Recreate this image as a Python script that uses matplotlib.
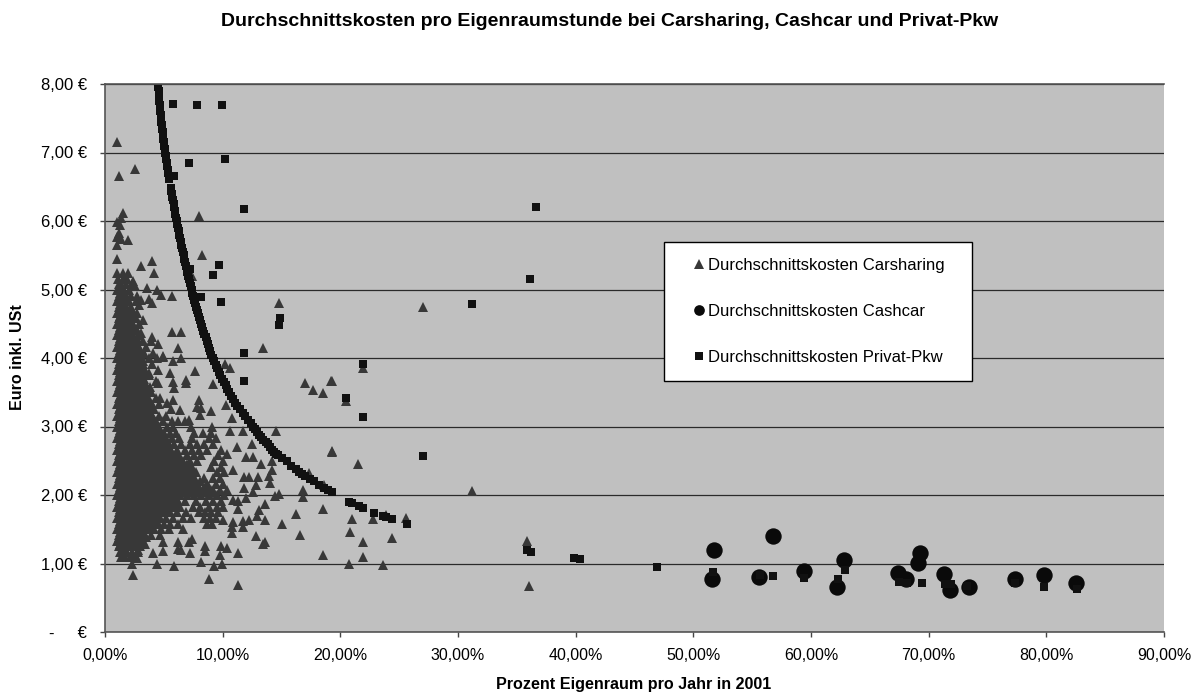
import matplotlib
matplotlib.use('Agg')
from matplotlib import pyplot as plt

plt.rcParams['font.family'] = ['Liberation Sans', 'DejaVu Sans']

x_ticks = [0, 10, 20, 30, 40, 50, 60, 70, 80, 90]
x_labels = ['0,00%', '10,00%', '20,00%', '30,00%', '40,00%', '50,00%', '60,00%', '70,00%', '80,00%', '90,00%']
y_ticks = [0, 1, 2, 3, 4, 5, 6, 7, 8]
y_labels = ['-     €', '1,00 €', '2,00 €', '3,00 €', '4,00 €', '5,00 €', '6,00 €', '7,00 €', '8,00 €']

# overplotted mass of carsharing points, estimated row by row (y, [x...])
carsharing_rows = [
    (1.10, [1.4, 1.7, 2.1, 2.5]),
    (1.17, [1.25, 1.5, 1.9, 2.3, 2.8]),
    (1.25, [1.15, 1.4, 1.7, 2.1, 2.6, 3.0]),
    (1.33, [1.05, 1.3, 1.6, 2.0, 2.4, 2.8, 3.2]),
    (1.42, [1.15, 1.4, 1.8, 2.2, 2.6, 3.0, 3.4, 3.9, 4.7]),
    (1.50, [1.05, 1.25, 1.6, 2.0, 2.4, 2.9, 3.3, 3.7, 4.2, 4.8, 5.4, 6.6]),
    (1.58, [1.15, 1.4, 1.8, 2.2, 2.7, 3.1, 3.6, 4.0, 4.5, 5.0, 5.5, 6.2, 8.7, 9.1]),
    (1.66, [1.05, 1.3, 1.7, 2.1, 2.5, 2.9, 3.4, 3.8, 4.3, 4.7, 5.2, 5.8, 6.6, 7.3, 8.4, 8.9, 9.4]),
    (1.75, [1.15, 1.4, 1.8, 2.3, 2.7, 3.2, 3.6, 4.1, 4.5, 5.0, 5.5, 6.1, 6.9, 8.0, 8.5, 9.0, 9.6]),
    (1.83, [1.05, 1.25, 1.6, 2.0, 2.5, 2.9, 3.4, 3.8, 4.3, 4.8, 5.3, 5.8, 6.4, 7.5, 8.1, 8.8, 9.5, 10.0]),
    (1.91, [1.15, 1.4, 1.9, 2.3, 2.7, 3.2, 3.7, 4.1, 4.6, 5.1, 5.6, 6.2, 6.8, 7.7, 8.6, 9.2, 9.9]),
    (2.00, [1.05, 1.3, 1.7, 2.1, 2.6, 3.0, 3.5, 3.9, 4.4, 4.9, 5.4, 5.9, 6.4, 7.0, 7.6, 8.2, 8.8, 9.5, 10.1]),
    (2.08, [1.15, 1.5, 1.9, 2.4, 2.8, 3.3, 3.7, 4.2, 4.7, 5.2, 5.7, 6.2, 6.7, 7.3, 7.9, 8.5, 9.1, 9.8, 10.4]),
    (2.16, [1.05, 1.3, 1.7, 2.2, 2.6, 3.1, 3.6, 4.0, 4.5, 5.0, 5.5, 6.0, 6.5, 7.0, 7.6, 8.7, 9.4, 10.0]),
    (2.25, [1.15, 1.4, 1.9, 2.3, 2.8, 3.3, 3.8, 4.3, 4.8, 5.3, 5.8, 6.3, 6.8, 7.4, 8.4, 9.2, 9.8]),
    (2.33, [1.05, 1.25, 1.6, 2.1, 2.5, 3.0, 3.5, 4.0, 4.5, 5.0, 5.6, 6.1, 6.6, 7.1, 7.7, 9.5, 10.1]),
    (2.41, [1.15, 1.4, 1.8, 2.3, 2.7, 3.2, 3.7, 4.2, 4.7, 5.3, 5.8, 6.4, 6.9, 7.4, 9.0, 9.9]),
    (2.50, [1.05, 1.3, 1.7, 2.1, 2.5, 3.0, 3.5, 3.9, 4.4, 5.0, 5.5, 6.0, 6.6, 7.2, 7.8, 9.3, 10.0]),
    (2.58, [1.15, 1.5, 1.9, 2.3, 2.8, 3.2, 3.7, 4.1, 4.7, 5.2, 5.8, 6.3, 7.0, 7.6, 8.2, 9.6]),
    (2.66, [1.05, 1.25, 1.7, 2.1, 2.6, 3.0, 3.4, 3.9, 4.5, 5.0, 5.6, 6.1, 6.8, 7.4, 8.0, 8.7, 9.9]),
    (2.75, [1.15, 1.4, 1.9, 2.3, 2.8, 3.3, 3.8, 4.3, 4.8, 5.4, 5.9, 6.5, 7.2, 7.8, 8.4, 9.2]),
    (2.83, [1.05, 1.3, 1.7, 2.2, 2.6, 3.1, 3.6, 4.1, 4.6, 5.2, 5.7, 6.3, 7.4, 8.8, 9.4]),
    (2.91, [1.15, 1.5, 1.9, 2.4, 2.8, 3.4, 3.9, 4.4, 5.0, 5.5, 6.0, 7.6, 8.3, 9.0]),
    (3.00, [1.05, 1.25, 1.6, 2.1, 2.6, 3.1, 3.6, 4.2, 4.6, 5.3, 5.8, 7.3, 9.1]),
    (3.08, [1.15, 1.4, 1.8, 2.3, 2.8, 3.3, 3.8, 4.3, 4.9, 5.7, 6.2, 6.8]),
    (3.16, [1.05, 1.3, 1.7, 2.1, 2.5, 3.0, 3.5, 4.0, 4.6, 5.2]),
    (3.25, [1.15, 1.5, 1.9, 2.3, 2.8, 3.2, 3.7, 4.2, 5.6]),
    (3.33, [1.05, 1.25, 1.7, 2.1, 2.6, 3.0, 3.5, 4.0, 4.6]),
    (3.41, [1.15, 1.4, 1.8, 2.3, 2.8, 3.2, 3.6, 4.3]),
    (3.50, [1.05, 1.3, 1.7, 2.1, 2.5, 2.9, 3.4, 3.9]),
    (3.58, [1.15, 1.5, 1.9, 2.3, 2.7, 3.1, 3.6]),
    (3.66, [1.05, 1.25, 1.7, 2.1, 2.5, 2.9, 3.3, 4.3]),
    (3.75, [1.15, 1.4, 1.8, 2.2, 2.7, 3.1, 3.7]),
    (3.83, [1.05, 1.3, 1.7, 2.0, 2.5, 2.9, 3.4, 4.5]),
    (3.91, [1.15, 1.5, 1.9, 2.3, 2.7, 3.2, 4.0]),
    (4.00, [1.05, 1.25, 1.7, 2.1, 2.5, 3.0, 3.7, 4.4]),
    (4.08, [1.15, 1.4, 1.8, 2.3, 2.7, 3.3, 4.1]),
    (4.16, [1.05, 1.3, 1.6, 2.0, 2.4, 2.9, 3.5]),
    (4.25, [1.15, 1.4, 1.8, 2.2, 2.6, 3.2, 3.9]),
    (4.33, [1.05, 1.25, 1.6, 2.0, 2.4, 2.9]),
    (4.41, [1.15, 1.4, 1.8, 2.2, 2.7]),
    (4.50, [1.05, 1.25, 1.6, 2.0, 2.4, 2.9]),
    (4.58, [1.15, 1.4, 1.8, 2.2, 2.6]),
    (4.66, [1.05, 1.25, 1.6, 2.0, 2.4]),
    (4.75, [1.15, 1.4, 1.8, 2.2]),
    (4.83, [1.05, 1.25, 1.6, 2.0, 2.6]),
    (4.91, [1.15, 1.4, 1.8, 2.2]),
    (5.00, [1.05, 1.3, 1.6, 2.0]),
    (5.08, [1.15, 1.4, 1.8, 2.3]),
    (5.16, [1.1, 1.5, 1.9]),
]

# second pass over the solid core of the mass, rows between the ones above
carsharing_core_rows = [
    (1.29, [1.3, 1.8, 2.2, 2.5, 2.8, 3.1]),
    (1.38, [1.2, 1.6, 2.0, 2.4, 2.8, 3.1, 3.5]),
    (1.46, [1.3, 1.7, 2.1, 2.5, 2.9, 3.2]),
    (1.54, [1.2, 1.5, 1.9, 2.3, 2.6, 3.0, 3.4, 3.8]),
    (1.62, [1.3, 1.6, 2.0, 2.4, 2.8, 3.2, 3.5, 3.9, 4.4]),
    (1.70, [1.2, 1.5, 1.9, 2.3, 2.6, 3.0, 3.4, 3.9, 4.2, 4.6]),
    (1.79, [1.3, 1.6, 2.0, 2.4, 2.8, 3.1, 3.5, 3.9, 4.4, 4.8, 5.1]),
    (1.87, [1.2, 1.5, 1.9, 2.2, 2.6, 3.0, 3.3, 3.7, 4.1, 4.5, 5.0, 5.5, 5.8, 6.1]),
    (1.96, [1.3, 1.6, 2.0, 2.4, 2.8, 3.2, 3.6, 4.0, 4.4, 4.8, 5.2, 5.7, 6.0]),
    (2.04, [1.2, 1.5, 1.9, 2.3, 2.7, 3.1, 3.5, 3.8, 4.2, 4.6, 5.0, 5.5, 5.9, 6.3]),
    (2.12, [1.3, 1.7, 2.1, 2.5, 2.9, 3.2, 3.6, 4.0, 4.4, 4.8, 5.2, 5.6, 6.1, 6.4]),
    (2.20, [1.2, 1.6, 2.0, 2.4, 2.7, 3.1, 3.5, 3.9, 4.3, 4.7, 5.1, 5.5, 5.9, 6.2]),
    (2.29, [1.3, 1.7, 2.1, 2.5, 2.9, 3.3, 3.6, 4.0, 4.4, 4.9, 5.3, 5.7, 6.0]),
    (2.37, [1.2, 1.5, 1.9, 2.3, 2.7, 3.1, 3.5, 3.9, 4.3, 4.7, 5.1, 5.5, 5.9]),
    (2.45, [1.3, 1.7, 2.1, 2.5, 2.9, 3.3, 3.7, 4.1, 4.5, 4.9, 5.3, 5.7]),
    (2.54, [1.2, 1.6, 2.0, 2.4, 2.7, 3.1, 3.5, 3.9, 4.3, 4.7, 5.1, 5.5, 5.8]),
    (2.62, [1.3, 1.7, 2.1, 2.5, 2.9, 3.3, 3.7, 4.1, 4.4, 4.8, 5.2, 5.5]),
    (2.70, [1.2, 1.5, 1.9, 2.3, 2.7, 3.1, 3.5, 3.9, 4.3, 4.7, 5.0, 5.3]),
    (2.79, [1.3, 1.7, 2.1, 2.5, 2.9, 3.2, 3.6, 4.0, 4.4, 4.8, 5.1]),
    (2.87, [1.2, 1.6, 2.0, 2.4, 2.7, 3.1, 3.5, 3.8, 4.2, 4.6, 4.9]),
    (2.95, [1.3, 1.7, 2.1, 2.5, 2.9, 3.3, 3.7, 4.1, 4.5, 4.7]),
    (3.04, [1.2, 1.6, 2.0, 2.4, 2.7, 3.1, 3.5, 3.9, 4.3]),
    (3.12, [1.3, 1.7, 2.1, 2.5, 2.9, 3.3, 3.7, 4.1]),
    (3.20, [1.2, 1.6, 2.0, 2.4, 2.7, 3.1, 3.5, 3.9]),
    (3.29, [1.3, 1.7, 2.1, 2.5, 2.9, 3.4, 3.8]),
    (3.37, [1.2, 1.6, 2.0, 2.4, 2.7, 3.1, 3.5, 3.8]),
    (3.45, [1.3, 1.7, 2.1, 2.5, 3.0, 3.3, 3.6]),
    (3.54, [1.2, 1.6, 2.0, 2.4, 2.7, 3.1, 3.4, 3.8]),
    (3.62, [1.3, 1.7, 2.2, 2.6, 3.0, 3.3]),
    (3.70, [1.2, 1.6, 1.9, 2.3, 2.7, 3.0, 3.3]),
    (3.79, [1.3, 1.7, 2.1, 2.5, 2.9, 3.2]),
    (3.87, [1.2, 1.6, 1.9, 2.3, 2.7, 3.0]),
    (3.95, [1.3, 1.7, 2.1, 2.5, 2.7, 2.9, 3.2]),
    (4.04, [1.2, 1.6, 2.0, 2.4, 2.8, 3.1]),
    (4.12, [1.3, 1.7, 2.1, 2.5, 2.8]),
    (4.20, [1.2, 1.6, 2.0, 2.4, 2.7]),
    (4.29, [1.3, 1.7, 2.1, 2.4, 2.7]),
    (4.37, [1.2, 1.6, 2.0, 2.3]),
    (4.45, [1.3, 1.7, 2.1, 2.4]),
    (4.54, [1.2, 1.6, 1.9]),
    (4.62, [1.3, 1.7, 2.1, 2.4]),
    (4.70, [1.2, 1.6, 1.9]),
    (4.79, [1.3, 1.7]),
    (4.87, [1.2, 1.6]),
    (4.95, [1.3, 1.7]),
]

# clump to the right of the core around 2 euro
carsharing_clump_rows = [
    (2.05, [6.6, 7.0, 7.4, 7.8, 8.2, 8.6, 9.0, 9.3]),
    (2.12, [6.8, 7.2, 7.6, 8.0, 8.4, 8.8]),
    (2.20, [6.5, 6.9, 7.3, 7.7, 8.1]),
    (2.28, [6.3, 6.7, 7.1, 7.5]),
    (2.37, [6.2, 6.5, 6.9, 7.3]),
    (2.45, [6.0, 6.3, 6.6, 7.0]),
    (2.54, [6.0, 6.3]),
]

# points that can be told apart
carsharing_x = [2.4, 8.84, 11.3, 4.4, 5.84, 2.27, 8.2, 9.3, 9.94, 18.5, 11.3, 9.77, 10.4, 9.83, 8.5, 8.5, 7.2, 6.5,
                6.2, 6.2, 7.1, 7.4, 4.96, 4.96, 4.1, 3.4, 2.7, 2.8, 13.45, 13.6, 12.8, 16.6, 10.8, 10.8, 11.76, 10.05,
                10.85, 12.2, 11.7, 13.6, 12.9, 13.1, 15.0, 16.2, 18.55, 13.6, 11.3, 11.3, 10.9, 12.0, 14.45, 14.8,
                16.85, 16.85, 18.6, 14.0, 12.6, 12.8, 11.8, 11.8, 12.2, 13.0, 13.9, 14.2, 13.3, 14.2, 12.0, 12.6, 12.5,
                11.2, 10.4, 10.9, 14.5, 10.6, 11.7, 19.3, 17.3, 10.8, 10.3, 9.0, 9.15, 7.65, 10.2, 10.6, 17.0, 17.7,
                18.5, 19.2, 8.0, 7.8, 8.2, 8.1, 7.1, 6.4, 5.75, 5.3, 5.9, 6.9, 6.9, 5.5, 5.8, 4.96, 5.8, 6.5, 3.7, 4.5,
                3.8, 4.7,
                1.0, 1.2, 2.55, 1.56, 1.4, 1.3, 1.0, 1.2, 1.0, 1.93, 1.4, 1.05, 8.0, 1.05, 3.06, 3.97, 4.16, 8.27, 7.4,
                1.0, 1.56, 1.93, 2.4, 2.55, 3.6, 4.45, 4.8, 5.67, 3.77, 3.97, 2.7, 3.06, 2.9, 2.7, 3.26, 14.76, 5.67,
                6.5, 6.2, 13.45, 3.97, 3.1, 4.5, 2.55, 2.1, 4.96,
                27.0, 21.9, 20.5, 19.3, 19.3, 21.5, 31.2, 25.6, 23.9, 22.8, 21.0, 20.8, 21.9, 24.4, 21.9, 20.7, 23.6,
                35.9, 36.0]
carsharing_y = [0.83, 0.77, 0.69, 1.0, 0.97, 1.0, 1.02, 0.96, 1.0, 1.13, 1.15, 1.12, 1.22, 1.25, 1.25, 1.18, 1.16, 1.2,
                1.21, 1.31, 1.31, 1.36, 1.18, 1.31, 1.16, 1.28, 1.08, 1.2, 1.28, 1.32, 1.4, 1.41, 1.45, 1.54, 1.54, 1.63,
                1.6, 1.64, 1.62, 1.64, 1.69, 1.78, 1.58, 1.72, 1.79, 1.87, 1.79, 1.91, 1.92, 1.96, 1.99, 2.02,
                1.97, 2.08, 2.15, 2.17, 2.05, 2.15, 2.1, 2.26, 2.26, 2.27, 2.28, 2.36, 2.45, 2.49, 2.55, 2.55, 2.75,
                2.7, 2.6, 2.37, 2.94, 2.93, 2.94, 2.64, 2.32, 3.13, 3.32, 3.23, 3.62, 3.81, 3.91, 3.85, 3.63, 3.53,
                3.49, 3.66, 3.39, 3.28, 3.27, 3.17, 3.1, 3.24, 3.39, 3.34, 3.56, 3.63, 3.68, 3.78, 3.65, 4.02, 3.95, 4.0, 3.78, 3.63,
                3.58, 3.41,
                7.16, 6.66, 6.76, 6.11, 6.04, 5.94, 5.99, 5.82, 5.77, 5.72, 5.73, 5.65, 6.08, 5.45, 5.35, 5.42, 5.24, 5.51, 5.19,
                5.24, 5.24, 5.24, 5.13, 5.05, 5.02, 5.0, 4.92, 4.91, 4.86, 4.8, 4.9, 4.85, 4.77, 4.65, 4.56, 4.81, 4.38,
                4.38, 4.14, 4.14, 4.31, 4.36, 4.21, 4.43, 4.6, 4.03,
                4.75, 3.86, 3.37, 3.66, 2.63, 2.45, 2.06, 1.66, 1.71, 1.65, 1.65, 1.46, 1.31, 1.37, 1.09, 0.99, 0.98,
                1.33, 0.67]

cashcar_x = [51.74, 51.6, 56.8, 55.6, 59.4, 62.8, 62.2, 67.4, 68.1, 69.3, 69.1, 71.3, 71.8, 73.4, 77.3, 79.8, 82.5]
cashcar_y = [1.2, 0.78, 1.4, 0.8, 0.895, 1.05, 0.65, 0.86, 0.77, 1.15, 1.01, 0.84, 0.61, 0.65, 0.77, 0.83, 0.71]

privat_x = [4.5, 4.55, 4.6, 4.65, 4.71, 4.77, 4.84, 4.9, 4.97, 5.04, 5.11, 5.19, 5.28, 5.37, 5.44, 5.6, 5.68, 5.78, 5.88,
            5.98, 6.1, 6.2, 6.32, 6.44, 6.56, 6.68, 6.8, 6.93, 7.07, 7.2, 7.37, 7.5, 7.66, 7.83, 8.0, 8.17, 8.36, 8.55,
            8.75, 8.96, 9.15, 9.4, 9.65, 9.95, 10.25, 10.55, 10.9, 11.25, 11.7, 12.15, 12.6, 12.95, 13.3, 13.65, 14.05,
            14.4, 14.7, 15.44, 16.2, 16.7, 17.0, 17.8, 18.6, 19.3,
            5.78, 7.8, 9.94, 7.1, 10.17, 5.9, 11.8, 9.7, 9.15, 7.2, 8.13, 9.86, 14.9, 14.8, 11.8, 11.8,
            31.2, 21.9, 20.5, 21.9, 27.0, 20.7, 21.0, 21.6, 21.9, 22.9, 23.6, 23.9, 24.4, 25.7, 35.9, 36.2, 39.9, 40.4,
            36.1, 36.6,
            46.9, 51.7, 55.7, 56.8, 59.4, 62.9, 62.3, 67.5, 68.2, 69.4, 71.4, 71.9, 73.3, 77.3, 79.8, 82.6]
privat_y = [8.0, 7.9, 7.8, 7.7, 7.6, 7.5, 7.4, 7.3, 7.2, 7.1, 7.0, 6.9, 6.8, 6.7, 6.62, 6.48, 6.4, 6.3, 6.2,
            6.1, 6.0, 5.9, 5.8, 5.7, 5.6, 5.5, 5.4, 5.3, 5.2, 5.1, 5.0, 4.9, 4.8, 4.7, 4.6, 4.5, 4.4, 4.3,
            4.2, 4.1, 4.0, 3.9, 3.8, 3.7, 3.6, 3.5, 3.4, 3.3, 3.2, 3.1, 3.0, 2.92, 2.85, 2.78, 2.7,
            2.63, 2.58, 2.49, 2.38, 2.31, 2.28, 2.2, 2.1, 2.04,
            7.71, 7.7, 7.7, 6.85, 6.9, 6.66, 6.18, 5.36, 5.21, 5.3, 4.89, 4.82, 4.58, 4.48, 4.08, 3.67,
            4.79, 3.91, 3.41, 3.14, 2.57, 1.9, 1.88, 1.84, 1.81, 1.74, 1.69, 1.68, 1.65, 1.58, 1.19, 1.17, 1.085, 1.07,
            5.15, 6.2,
            0.95, 0.88, 0.83, 0.82, 0.79, 0.905, 0.77, 0.735, 0.72, 0.71, 0.705, 0.7, 0.67, 0.72, 0.65, 0.63]

# the tight part of the curve, points lying between the ones above
privat_curve_x = [4.52, 4.57, 4.62, 4.68, 4.74, 4.8, 4.87, 4.93, 5.0, 5.07, 5.15, 5.23, 5.32, 5.4, 5.64, 5.73, 5.83, 5.93,
                  6.04, 6.15, 6.26, 6.38, 6.5, 6.62, 6.74, 6.86, 7.0, 7.13, 7.28, 7.43, 7.58, 7.74, 7.91, 8.08, 8.26,
                  8.45, 8.65, 8.85, 9.05, 9.27, 9.52, 9.8, 10.1, 10.4, 10.72, 11.07, 11.47, 11.92, 12.37, 12.78, 13.12,
                  13.47, 13.85, 14.22, 14.55, 15.05, 15.8, 16.45, 17.4, 18.2, 18.95]
privat_curve_y = [7.95, 7.85, 7.75, 7.65, 7.55, 7.45, 7.35, 7.25, 7.15, 7.05, 6.95, 6.85, 6.75, 6.66, 6.44, 6.35, 6.25, 6.15,
                  6.05, 5.95, 5.85, 5.75, 5.65, 5.55, 5.45, 5.35, 5.25, 5.15, 5.05, 4.95, 4.85, 4.75, 4.65, 4.55, 4.45,
                  4.35, 4.25, 4.15, 4.05, 3.95, 3.85, 3.75, 3.65, 3.55, 3.45, 3.35, 3.25, 3.15, 3.05, 2.96, 2.88,
                  2.81, 2.74, 2.66, 2.6, 2.54, 2.43, 2.34, 2.24, 2.15, 2.07]

all_x = list(carsharing_x)
all_y = list(carsharing_y)
for row_y, row_x in carsharing_rows + carsharing_core_rows + carsharing_clump_rows:
    all_x += row_x
    all_y += [row_y] * len(row_x)

fig = plt.figure(figsize=(12, 6.93), dpi=100)
ax = fig.add_axes([105 / 1200, 1 - 632 / 693, 1059 / 1200, 548 / 693])
ax.set_facecolor('#C0C0C0')
ax.set_axisbelow(True)
ax.grid(axis='y', color='#2a2a2a', linewidth=0.9)
ax.grid(axis='x', visible=False)

ax.plot(all_x, all_y, '^', color='#383838', ms=7.3, mew=0, label='Durchschnittskosten Carsharing')
ax.plot(cashcar_x, cashcar_y, 'o', color='#0a0a0a', ms=11.8, mew=0, label='Durchschnittskosten Cashcar')
ax.plot(privat_x + privat_curve_x, privat_y + privat_curve_y, 's', color='#111111', ms=5.9, mew=0,
        label='Durchschnittskosten Privat-Pkw')

ax.set_xlim(0, 90)
ax.set_ylim(0, 8)
ax.set_xticks(x_ticks)
ax.set_xticklabels(x_labels, fontsize=11.5)
ax.set_yticks(y_ticks)
ax.set_yticklabels(y_labels, fontsize=12)
ax.tick_params(axis='both', length=3.6, width=1, color='#444444')
ax.tick_params(axis='x', pad=8)
ax.tick_params(axis='y', pad=9.4)
ax.spines['right'].set_visible(False)
for side in ['left', 'bottom', 'top']:
    ax.spines[side].set_color('#555555')
    ax.spines[side].set_linewidth(1.2)

fig.text(610 / 1200, 1 - 21 / 693, 'Durchschnittskosten pro Eigenraumstunde bei Carsharing, Cashcar und Privat-Pkw',
         ha='center', va='center', fontsize=14, fontweight='bold')
fig.text(634 / 1200, 1 - 685 / 693, 'Prozent Eigenraum pro Jahr in 2001', ha='center', va='center',
         fontsize=11.6, fontweight='bold')
fig.text(18 / 1200, 1 - 357 / 693, 'Euro inkl. USt', ha='center', va='center', rotation=90,
         fontsize=11.5, fontweight='bold')

leg = ax.legend(loc='upper left', bbox_to_anchor=((664.3 - 105) / 1059, 1 - (241.7 - 84) / 548 - 0.2, 307.4 / 1059, 0.2),
                mode='expand', fontsize=12, fancybox=False, framealpha=1, facecolor='white', edgecolor='black',
                labelspacing=1.87, handletextpad=-0.6, handlelength=2.28, borderpad=0.97, borderaxespad=0)
leg.get_frame().set_linewidth(1)
# legend markers are smaller than the plotted ones
leg.legend_handles[0].set_markersize(6.7)
leg.legend_handles[1].set_markersize(7.7)
leg.legend_handles[2].set_markersize(5.8)

plt.savefig('out.png', dpi=100)
